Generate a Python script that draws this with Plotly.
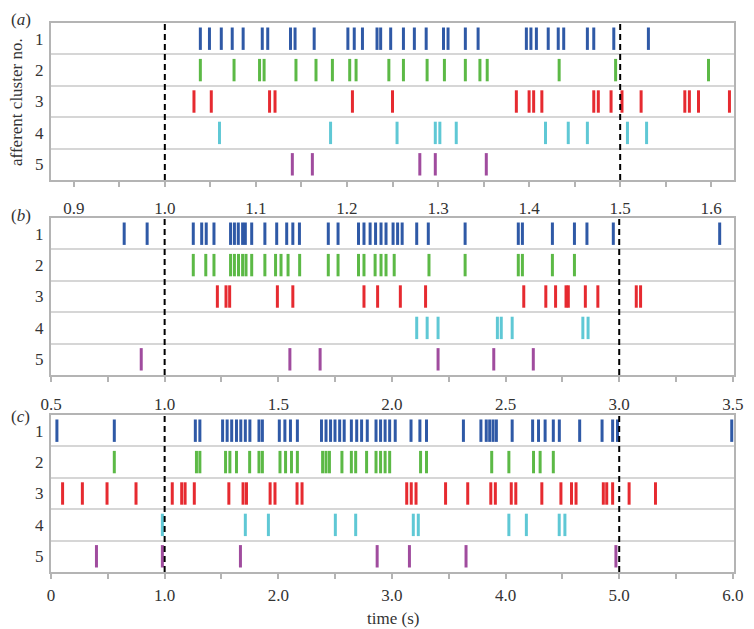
import plotly.graph_objects as go

# spike times (s) per afferent cluster
spikes_a = [
    [1.039, 1.049, 1.062, 1.074, 1.086, 1.107, 1.113, 1.138, 1.143, 1.164, 1.201, 1.208, 1.217,
     1.233, 1.237, 1.248, 1.262, 1.274, 1.287, 1.306, 1.311, 1.330, 1.344, 1.397, 1.402, 1.408,
     1.421, 1.432, 1.438, 1.464, 1.471, 1.493, 1.531],
    [1.039, 1.076, 1.104, 1.109, 1.144, 1.166, 1.184, 1.203, 1.210, 1.246, 1.262, 1.288, 1.307,
     1.330, 1.346, 1.354, 1.433, 1.495, 1.597],
    [1.032, 1.051, 1.115, 1.121, 1.206, 1.250, 1.386, 1.400, 1.405, 1.414, 1.471, 1.476, 1.490,
     1.502, 1.523, 1.571, 1.576, 1.586, 1.620],
    [1.060, 1.182, 1.255, 1.297, 1.302, 1.320, 1.418, 1.443, 1.464, 1.508, 1.529],
    [1.140, 1.162, 1.280, 1.297, 1.353],
]

spikes_b = [
    [0.822, 0.923, 1.126, 1.163, 1.183, 1.217, 1.290, 1.307, 1.324, 1.343, 1.355, 1.383, 1.441,
     1.493, 1.537, 1.564, 1.593, 1.720, 1.763, 1.853, 1.877, 1.904, 1.928, 1.952, 1.974, 2.005,
     2.025, 2.045, 2.109, 2.160, 2.322, 2.556, 2.574, 2.706, 2.803, 2.858, 2.974, 3.442],
    [1.126, 1.181, 1.217, 1.290, 1.307, 1.325, 1.343, 1.358, 1.383, 1.441, 1.488, 1.512, 1.543,
     1.594, 1.720, 1.763, 1.853, 1.877, 1.926, 1.952, 1.974, 2.010, 2.163, 2.322, 2.556, 2.574,
     2.706, 2.803],
    [1.232, 1.270, 1.286, 1.496, 1.564, 1.877, 1.937, 2.037, 2.148, 2.580, 2.677, 2.720, 2.766,
     2.776, 2.851, 2.906, 3.075, 3.094],
    [2.109, 2.155, 2.203, 2.464, 2.481, 2.529, 2.840, 2.863],
    [0.897, 1.551, 1.684, 2.203, 2.448, 2.622],
]

spikes_c = [
    [0.052, 0.557, 1.27, 1.31, 1.51, 1.55, 1.59, 1.632, 1.67, 1.71, 1.75, 1.83, 1.86, 2.009,
     2.058, 2.107, 2.168, 2.38, 2.42, 2.46, 2.499, 2.54, 2.58, 2.643, 2.690, 2.733, 2.783, 2.86,
     2.90, 2.94, 2.980, 3.029, 3.168, 3.246, 3.304, 3.629, 3.783, 3.83, 3.86, 3.89, 3.919, 4.058,
     4.238, 4.29, 4.348, 4.42, 4.473, 4.652, 4.849, 4.942, 4.985, 5.99],
    [0.557, 1.28, 1.31, 1.536, 1.574, 1.632, 1.748, 1.83, 1.86, 2.015, 2.064, 2.116, 2.168, 2.39,
     2.42, 2.45, 2.56, 2.643, 2.681, 2.777, 2.86, 2.90, 2.94, 2.980, 3.252, 3.304, 3.878, 4.029,
     4.246, 4.304, 4.42],
    [0.102, 0.276, 0.493, 0.748, 1.067, 1.15, 1.18, 1.261, 1.565, 1.69, 1.72, 1.928, 1.971,
     2.165, 2.209, 3.13, 3.17, 3.212, 3.472, 3.667, 3.87, 3.91, 4.05, 4.09, 4.319, 4.487, 4.58,
     4.62, 4.86, 4.89, 4.942, 5.087, 5.319],
    [0.98, 1.71, 1.913, 2.502, 2.681, 3.188, 3.232, 4.029, 4.183, 4.472, 4.522],
    [0.4, 0.98, 1.667, 2.87, 3.154, 3.652, 4.971],
]

cluster_colors = ["#2f59a6", "#5cb946", "#e62a30", "#5fc8d5", "#a04c9e"]
cluster_labels = ["1", "2", "3", "4", "5"]

# stimulus onset / offset per panel
stim_a = [1.0, 1.5]
stim_b = [1.0, 3.0]
stim_c = [1.0, 5.0]

ticks_a = [0.9, 1.0, 1.1, 1.2, 1.3, 1.4, 1.5, 1.6]
ticktext_a = ["0.9", "1.0", "1.1", "1.2", "1.3", "1.4", "1.5", "1.6"]
ticks_b = [0.5, 1.0, 1.5, 2.0, 2.5, 3.0, 3.5]
ticktext_b = ["0.5", "1.0", "1.5", "2.0", "2.5", "3.0", "3.5"]
ticks_c = [0, 1, 2, 3, 4, 5, 6]
ticktext_c = ["0", "1.0", "2.0", "3.0", "4.0", "5.0", "6.0"]

serif = "Liberation Serif"
grey = "#b4b4b4"

panels = [
    (spikes_a, stim_a, [0.875, 1.625], ticks_a, ticktext_a, 0.05, [0.714, 1.0], 7),
    (spikes_b, stim_b, [0.5, 3.505], ticks_b, ticktext_b, 0.25, [0.3588, 0.6448], 8),
    (spikes_c, stim_c, [0, 6.01], ticks_c, ticktext_c, 0.5, [0.0, 0.286], 2),
]

fig = go.Figure()
layout = {}

for i, (spikes, stim, xrange_, tv, tt, minor_dt, dom, standoff) in enumerate(panels):
    n = "" if i == 0 else str(i + 1)
    for k, times in enumerate(spikes):
        fig.add_trace(go.Scatter(
            x=times,
            y=[k + 1] * len(times),
            mode="markers",
            marker=dict(symbol="line-ns", size=16, color=cluster_colors[k],
                        line=dict(color=cluster_colors[k], width=3)),
            xaxis="x" + n, yaxis="y" + n,
            showlegend=False, hoverinfo="x",
        ))
    layout["xaxis" + n] = dict(
        domain=[0, 1], anchor="y" + n, range=xrange_,
        tickvals=tv, ticktext=tt, ticks="outside", ticklen=5, tickwidth=1.5, tickcolor=grey,
        minor=dict(dtick=minor_dt, tick0=0, ticks="outside", ticklen=5, tickwidth=1.5,
                   tickcolor=grey),
        ticklabelstandoff=standoff,
        showline=True, mirror=True, linecolor=grey, linewidth=2,
        showgrid=False, zeroline=False,
        tickfont=dict(family=serif, size=17, color="#333"),
    )
    layout["yaxis" + n] = dict(
        domain=dom, anchor="x" + n, range=[5.5, 0.5],
        tickvals=[1, 2, 3, 4, 5], ticktext=cluster_labels, ticks="", ticklabelstandoff=2,
        showgrid=False, zeroline=False,
        minor=dict(tick0=0.5, dtick=1, showgrid=True, gridcolor="#d6d6d6", gridwidth=2),
        showline=True, mirror=True, linecolor=grey, linewidth=2,
        tickfont=dict(family=serif, size=17, color="#333"),
    )
    for s in stim:
        fig.add_shape(type="line", x0=s, x1=s, y0=0, y1=1,
                      xref="x" + n, yref="y" + n + " domain",
                      line=dict(color="black", width=2, dash="6px,4px"))

annotations = [
    dict(text="(<i>a</i>)", x=-0.0621, y=1.0273, xanchor="left", yanchor="top"),
    dict(text="(<i>b</i>)", x=-0.0621, y=0.649, xanchor="left", yanchor="middle"),
    dict(text="(<i>c</i>)", x=-0.0621, y=0.283, xanchor="left", yanchor="middle"),
    dict(text="afferent cluster no.", x=-0.0506, y=0.857, textangle=-90,
         xanchor="center", yanchor="middle"),
    dict(text="time (s)", x=0.5014, y=-0.0856, xanchor="center", yanchor="middle"),
]
for a in annotations:
    a.update(xref="paper", yref="paper", showarrow=False,
             font=dict(family=serif, size=17, color="#333"))

# the page body adds an 8px offset, so the figure is 8px smaller than the window
fig.update_layout(
    width=746, height=621,
    margin=dict(l=43, r=11, t=15, b=57),
    font=dict(family=serif, size=17, color="#333"),
    paper_bgcolor="white", plot_bgcolor="white",
    annotations=annotations,
    **layout,
)

fig.write_html("out.html")
